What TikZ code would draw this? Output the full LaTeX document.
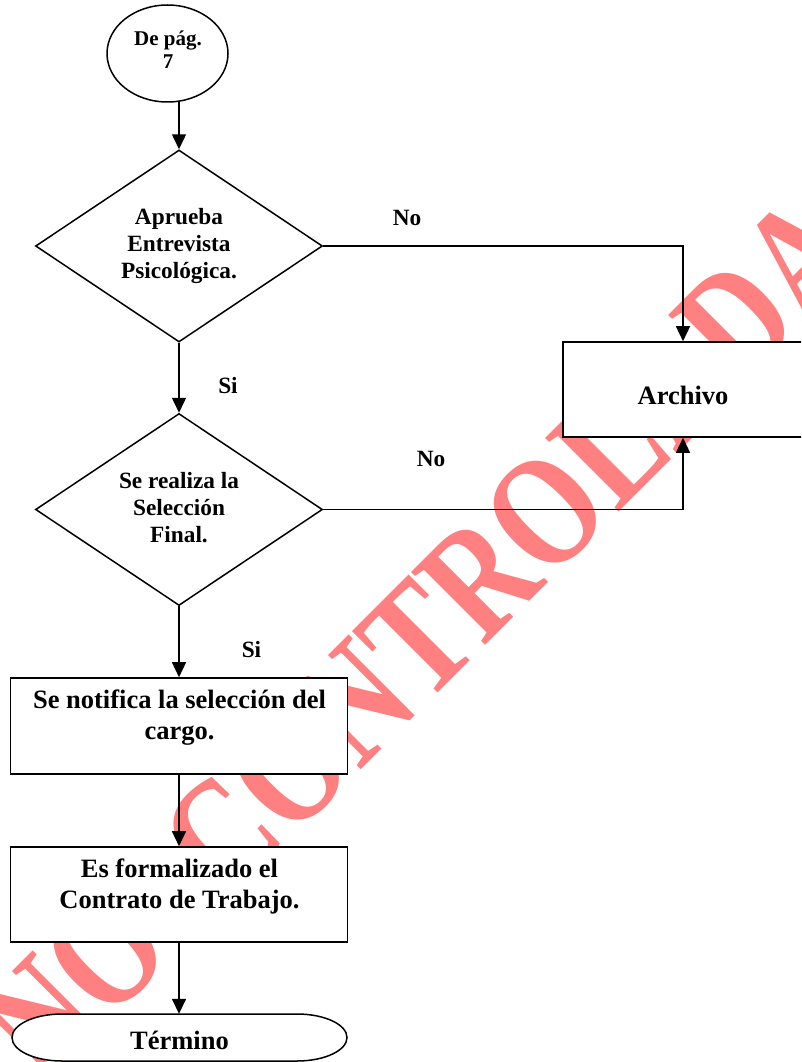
\documentclass[tikz,border=0pt]{standalone}
\usepackage{fontspec}
\usepackage{graphicx}
\setmainfont{Liberation Serif}
\usetikzlibrary{arrows.meta,shapes.geometric}
\definecolor{wmcol}{HTML}{FF8080}
\tikzset{
  ln/.style={line width=1.5pt, draw=black},
  arr/.style={ln, -{Triangle[length=15pt,width=14pt]}},
  boxshape/.style={draw, line width=1.6pt, fill=white, rectangle, inner sep=0pt},
  dia/.style={diamond, aspect=1.5, draw, line width=1.5pt, fill=white, inner sep=0pt,
              minimum width=287pt, minimum height=192pt},
  bigtxt/.style={font=\bfseries\fontsize{26.5}{31}\selectfont, align=center, inner sep=0pt},
  smalltxt/.style={font=\bfseries\fontsize{23.3}{27}\selectfont, align=center, inner sep=0pt},
  wmstyle/.style={font=\bfseries\fontsize{126}{126}\selectfont, text=wmcol, inner sep=0pt}
}
\begin{document}
\begin{tikzpicture}[x=1pt,y=-1pt]
\useasboundingbox (0,0) rectangle (801,1062);
\clip (0,0) rectangle (801,1062);
% watermark
\node[wmstyle, rotate=45, anchor=base west] (wm) at (226,905) {\scalebox{1}[1.26]{\llap{COPIA NO\hspace{0.55em}}CONTROLADA}};
% start connector
\node[ellipse, draw, line width=1.5pt, fill=white, minimum width=121pt, minimum height=97pt, inner sep=0pt] (c1) at (167.5,53.5) {};
\node[font=\bfseries\fontsize{21}{23}\selectfont, align=center, inner sep=0pt] (c1t) at (168,49.5) {De pág.\\7};
% decisions
\node[dia] (d1) at (179,246) {};
\node[smalltxt] (d1t) at (179,245.5) {Aprueba\\Entrevista\\Psicológica.};
\node[dia] (d2) at (179,509.5) {};
\node[smalltxt] (d2t) at (179,507.5) {Se realiza la\\Selección\\Final.};
% archivo
\node[boxshape, minimum width=240pt, minimum height=95pt] (arch) at (683,389.5) {};
\node[bigtxt] (archt) at (683,395) {Archivo};
% process boxes
\node[boxshape, minimum width=337pt, minimum height=96pt] (b1) at (179,726) {};
\node[bigtxt] (b1t) at (179.5,717.5) {Se notifica la selección del\\cargo.};
\node[boxshape, minimum width=337pt, minimum height=95pt] (b2) at (179,894.5) {};
\node[bigtxt] (b2t) at (179.5,886.5) {Es formalizado el\\Contrato de Trabajo.};
% terminal
\draw[ln, fill=white] (62,1014) -- (297,1014)
   arc[start angle=90, end angle=-90, x radius=50pt, y radius=23.5pt]
   -- (62,1061)
   arc[start angle=270, end angle=90, x radius=50pt, y radius=23.5pt] -- cycle;
\node[rectangle, minimum width=337pt, minimum height=47pt, inner sep=0pt] (term) at (179,1037.5) {};
\node[bigtxt] (termt) at (179.5,1040) {Término};
% labels
\node[smalltxt] (no1) at (407,218) {No};
\node[smalltxt] (no2) at (431,458.5) {No};
\node[smalltxt] (si1) at (228,386) {Si};
\node[smalltxt] (si2) at (251.5,650) {Si};
% connectors
\draw[arr] (c1.-76 -| d1.north) -- (d1.north);
\draw[arr] (d1.south) -- (d2.north);
\draw[arr] (d1.east) -| (arch.north);
\draw[arr] (d2.east) -| (arch.south);
\draw[arr] (d2.south) -- (b1.north);
\draw[arr] (b1.south) -- (b2.north);
\draw[arr] (b2.south) -- (term.north);
\end{tikzpicture}
\end{document}
